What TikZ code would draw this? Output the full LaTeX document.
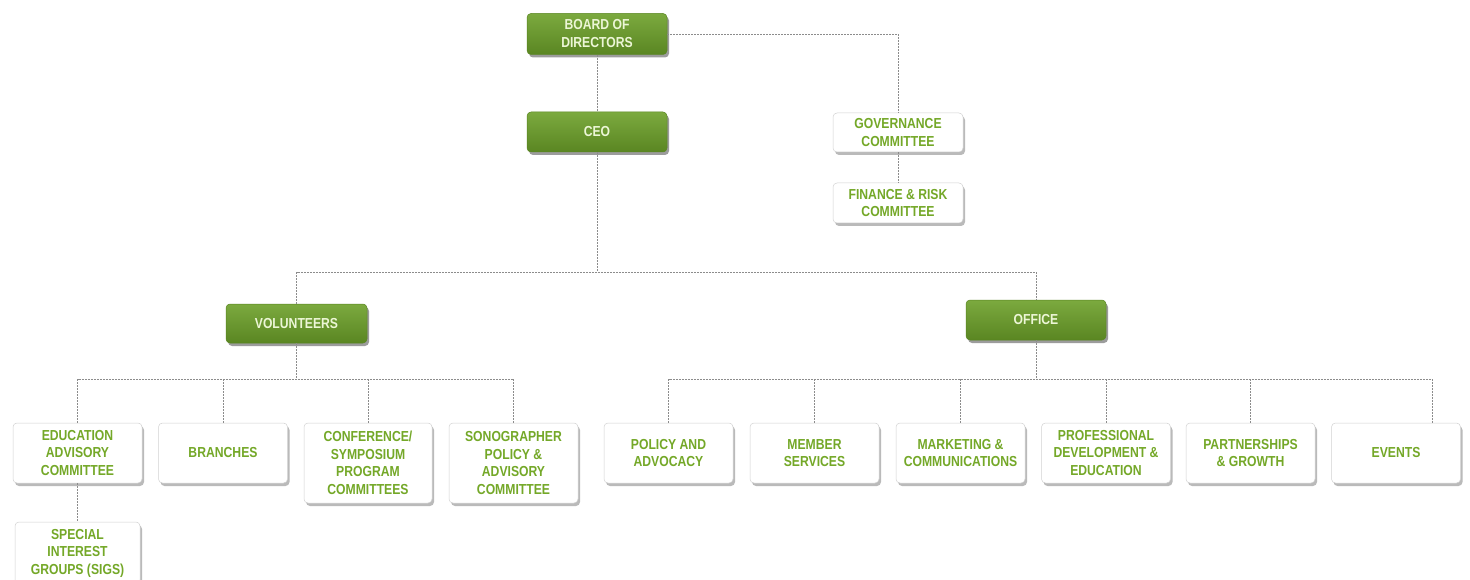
\documentclass[tikz,border=0pt]{standalone}
\usepackage{fontspec}
\setmainfont{Liberation Sans}[FakeStretch=0.84]
\usetikzlibrary{shadows,calc}
\definecolor{boxgreen}{RGB}{112,162,46}
\definecolor{boxgreenD}{RGB}{90,134,34}
\definecolor{txtgreen}{RGB}{116,168,40}
\definecolor{txtlight}{RGB}{236,246,214}
\definecolor{linegray}{RGB}{140,140,140}
\tikzset{
  gbox/.style={draw=boxgreenD, line width=0.5pt, rounded corners=4pt, top color=boxgreen!92!white, bottom color=boxgreenD,
    text=txtlight, font=\bfseries\fontsize{14.5}{18}\selectfont, align=center, inner sep=1pt,
    drop shadow={shadow xshift=2pt, shadow yshift=-3pt, fill=black!55, opacity=0.7}},
  wbox/.style={draw=black!18, line width=0.5pt, rounded corners=4pt, fill=white,
    text=txtgreen, font=\bfseries\fontsize{14.5}{17.5}\selectfont, align=center, inner sep=1pt,
    drop shadow={shadow xshift=2pt, shadow yshift=-3pt, fill=black!45, opacity=0.6}},
  conn/.style={draw=linegray, line width=0.7pt, dash pattern=on 2pt off 1pt}
}
\begin{document}
\begin{tikzpicture}[x=1pt,y=-1pt]
\useasboundingbox (0,0) rectangle (1470,580);
\fill[white] (0,0) rectangle (1470,580);
% nodes
\node[gbox, minimum width=140pt, minimum height=41pt] (board) at (597,34) {BOARD OF\\DIRECTORS};
\node[gbox, minimum width=140pt, minimum height=40pt] (ceo) at (597,132) {CEO};
\node[wbox, minimum width=130pt, minimum height=39pt] (gov) at (898,132.5) {GOVERNANCE\\COMMITTEE};
\node[wbox, minimum width=130pt, minimum height=40pt] (fin) at (898,203) {FINANCE \& RISK\\COMMITTEE};
\node[gbox, minimum width=141pt, minimum height=39pt] (vol) at (296.5,323.5) {VOLUNTEERS};
\node[gbox, minimum width=140pt, minimum height=40pt] (off) at (1036,320) {OFFICE};
\node[wbox, minimum width=129pt, minimum height=60pt] (edu) at (77.5,453) {EDUCATION\\ADVISORY\\COMMITTEE};
\node[wbox, minimum width=129pt, minimum height=60pt] (branch) at (223,453) {BRANCHES};
\node[wbox, minimum width=128pt, minimum height=80pt] (conf) at (368,463) {CONFERENCE/\\SYMPOSIUM\\PROGRAM\\COMMITTEES};
\node[wbox, minimum width=129pt, minimum height=80pt] (sono) at (513.5,463) {SONOGRAPHER\\POLICY \&\\ADVISORY\\COMMITTEE};
\node[wbox, minimum width=125pt, minimum height=62pt] (sigs) at (77.5,553) {SPECIAL\\INTEREST\\GROUPS (SIGS)};
\node[wbox, minimum width=129pt, minimum height=60pt] (pol) at (668.5,453) {POLICY AND\\ADVOCACY};
\node[wbox, minimum width=129pt, minimum height=60pt] (mem) at (814.5,453) {MEMBER\\SERVICES};
\node[wbox, minimum width=129pt, minimum height=60pt] (mkt) at (960.5,453) {MARKETING \&\\COMMUNICATIONS};
\node[wbox, minimum width=129pt, minimum height=60pt] (prof) at (1106,453) {PROFESSIONAL\\DEVELOPMENT \&\\EDUCATION};
\node[wbox, minimum width=129pt, minimum height=60pt] (part) at (1250.5,453) {PARTNERSHIPS\\\& GROWTH};
\node[wbox, minimum width=129pt, minimum height=60pt] (ev) at (1396,453) {EVENTS};
% helper coordinates
\coordinate (b1) at (0,272);
\coordinate (b2) at (0,379);
\coordinate (evtop) at (1432,423);
% connectors
\draw[conn] (board.south) -- (ceo.north);
\draw[conn] (board.east) -| (gov.north);
\draw[conn] (gov.south) -- (fin.north);
\draw[conn] (ceo.south) -- (ceo.south |- b1);
\draw[conn] (vol.north) -- (vol.north |- b1) -| (off.north);
\draw[conn] (vol.south) -- (vol.south |- b2);
\draw[conn] (edu.north) -- (edu.north |- b2) -| (sono.north);
\draw[conn] (branch.north) -- (branch.north |- b2);
\draw[conn] (conf.north) -- (conf.north |- b2);
\draw[conn] (edu.south) -- (sigs.north);
\draw[conn] (off.south) -- (off.south |- b2);
\draw[conn] (pol.north) -- (pol.north |- b2) -| (evtop);
\draw[conn] (mem.north) -- (mem.north |- b2);
\draw[conn] (mkt.north) -- (mkt.north |- b2);
\draw[conn] (prof.north) -- (prof.north |- b2);
\draw[conn] (part.north) -- (part.north |- b2);
\end{tikzpicture}
\end{document}
